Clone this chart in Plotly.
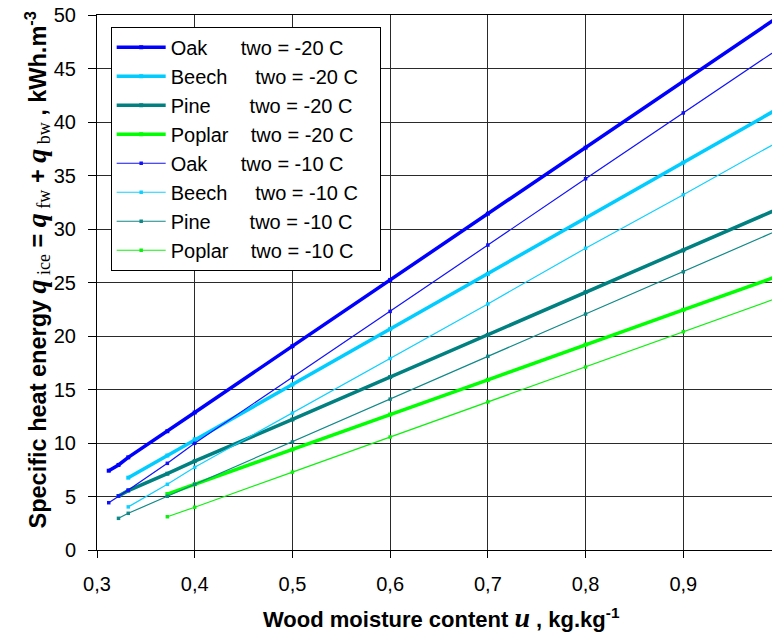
import plotly.graph_objects as go

# ---- data ----
u_oak = [0.312, 0.322, 0.332, 0.372, 0.4, 0.5, 0.6, 0.7, 0.8, 0.9, 1.0]
oak_m20 = [7.41, 7.95, 8.66, 11.10, 12.85, 19.05, 25.24, 31.43, 37.60, 43.80, 50.00]
oak_m10 = [4.42, 5.05, 5.60, 8.10, 9.97, 16.15, 22.30, 28.50, 34.70, 40.85, 47.00]

u_beech = [0.332, 0.372, 0.4, 0.5, 0.6, 0.7, 0.8, 0.9, 1.0]
beech_m20 = [6.76, 8.83, 10.35, 15.46, 20.64, 25.80, 31.00, 36.20, 41.40]
beech_m10 = [4.03, 6.14, 7.73, 12.80, 17.90, 23.00, 28.20, 33.20, 38.30]

u_pine = [0.322, 0.332, 0.372, 0.4, 0.5, 0.6, 0.7, 0.8, 0.9, 1.0]
pine_m20 = [5.05, 5.55, 7.13, 8.30, 12.20, 16.16, 20.10, 24.10, 28.00, 32.00]
pine_m10 = [2.96, 3.43, 5.02, 6.14, 10.10, 14.10, 18.10, 22.05, 26.00, 30.00]

u_poplar = [0.372, 0.4, 0.5, 0.6, 0.7, 0.8, 0.9, 1.0]
poplar_m20 = [5.23, 6.15, 9.40, 12.66, 15.90, 19.20, 22.45, 25.70]
poplar_m10 = [3.11, 4.00, 7.28, 10.56, 13.84, 17.10, 20.40, 23.67]

x_ticks = [0.3, 0.4, 0.5, 0.6, 0.7, 0.8, 0.9, 1.0]
x_tick_text = ["0,3", "0,4", "0,5", "0,6", "0,7", "0,8", "0,9", "1"]
y_ticks = [0, 5, 10, 15, 20, 25, 30, 35, 40, 45, 50]

NB = "\u00a0"
TAIL = NB * 3
series = [
    ("Oak" + NB * 6 + "two = -20 C" + TAIL, u_oak, oak_m20, "#0000FF", 3.5, True),
    ("Beech" + NB * 5 + "two = -20 C" + TAIL, u_beech, beech_m20, "#00CCFF", 3.5, True),
    ("Pine" + NB * 7 + "two = -20 C" + TAIL, u_pine, pine_m20, "#008080", 3.5, True),
    ("Poplar" + NB * 4 + "two = -20 C" + TAIL, u_poplar, poplar_m20, "#00FF00", 3.5, True),
    ("Oak" + NB * 6 + "two = -10 C" + TAIL, u_oak, oak_m10, "#1010FF", 1.2, False),
    ("Beech" + NB * 5 + "two = -10 C" + TAIL, u_beech, beech_m10, "#10D0FF", 1.2, False),
    ("Pine" + NB * 7 + "two = -10 C" + TAIL, u_pine, pine_m10, "#108888", 1.2, False),
    ("Poplar" + NB * 4 + "two = -10 C" + TAIL, u_poplar, poplar_m10, "#10F010", 1.2, False),
]

fig = go.Figure()
for i, (name, xs, ys, col, w, thick) in enumerate(series):
    fig.add_trace(go.Scatter(
        x=xs, y=ys, name=name, mode="lines+markers",
        line=dict(color=col, width=w),
        marker=dict(symbol="square", size=3.5 if not thick else 4, color=col),
        legendgroup="g%d" % i,
    ))

FONT = "Liberation Sans, Arial, sans-serif"
SERIF = "Liberation Serif, Times New Roman, serif"

QSTY = "font-family:" + SERIF + ";font-size:28px;font-style:italic;font-weight:bold"
SSTY = "font-family:" + SERIF + ";font-size:18px;font-weight:normal"

ytitle = ("<b>Specific heat energy </b>"
          "<span style='" + QSTY + "'>q</span>"
          "<sub><span style='" + SSTY + "'> ice</span></sub>"
          "<b> = </b>"
          "<span style='" + QSTY + "'>q</span>"
          "<sub><span style='" + SSTY + "'> fw</span></sub>"
          "<b> + </b>"
          "<span style='" + QSTY + "'>q</span>"
          "<sub><span style='" + SSTY + "'> bw</span></sub>"
          "<b> , kWh.m<sup>-3</sup></b>")

xtitle = ("<b>Wood moisture content </b>"
          "<span style='font-family:" + SERIF + ";font-size:28px;font-style:italic;font-weight:bold'>u</span>"
          "<b> , kg.kg<sup>-1</sup></b>")

fig.update_layout(
    width=780, height=639,
    margin=dict(l=89, r=7, t=7, b=97, autoexpand=False),
    paper_bgcolor="white", plot_bgcolor="white",
    font=dict(family=FONT, size=20, color="black"),
    separators=",.",
    showlegend=True,
    legend=dict(
        x=0.02, y=0.978, xanchor="left", yanchor="top",
        bgcolor="white", bordercolor="black", borderwidth=1,
        font=dict(family=FONT, size=20, color="black"),
        tracegroupgap=0, itemwidth=49,
    ),
    annotations=[
        dict(text=ytitle, textangle=-90, xref="paper", yref="paper",
             x=0, y=0.5, xanchor="center", yanchor="middle",
             xshift=-60, yshift=12, showarrow=False,
             font=dict(family=FONT, size=23.5, color="black")),
        dict(text=xtitle, xref="paper", yref="paper",
             x=0.5, y=0, xanchor="center", yanchor="top",
             xshift=2, yshift=-50, showarrow=False,
             font=dict(family=FONT, size=22, color="black")),
    ],
)

fig.update_xaxes(
    range=[0.3, 1.0], tickvals=x_ticks, ticktext=x_tick_text,
    showgrid=True, gridcolor="#2a2a2a", gridwidth=1,
    showline=True, linecolor="black", linewidth=1, mirror=True,
    ticks="outside", ticklen=7, tickcolor="black", ticklabelstandoff=9,
    ticklabeloverflow="allow",
    tickfont=dict(family=FONT, size=20, color="black"), zeroline=False,
)
fig.update_yaxes(
    range=[0, 50], tickvals=y_ticks,
    showgrid=True, gridcolor="#2a2a2a", gridwidth=1,
    showline=True, linecolor="black", linewidth=1, mirror=True,
    ticks="outside", ticklen=8, tickcolor="black", ticklabelstandoff=8,
    ticklabeloverflow="allow",
    tickfont=dict(family=FONT, size=20, color="black"), zeroline=False,
)

fig.write_html("out.html")
